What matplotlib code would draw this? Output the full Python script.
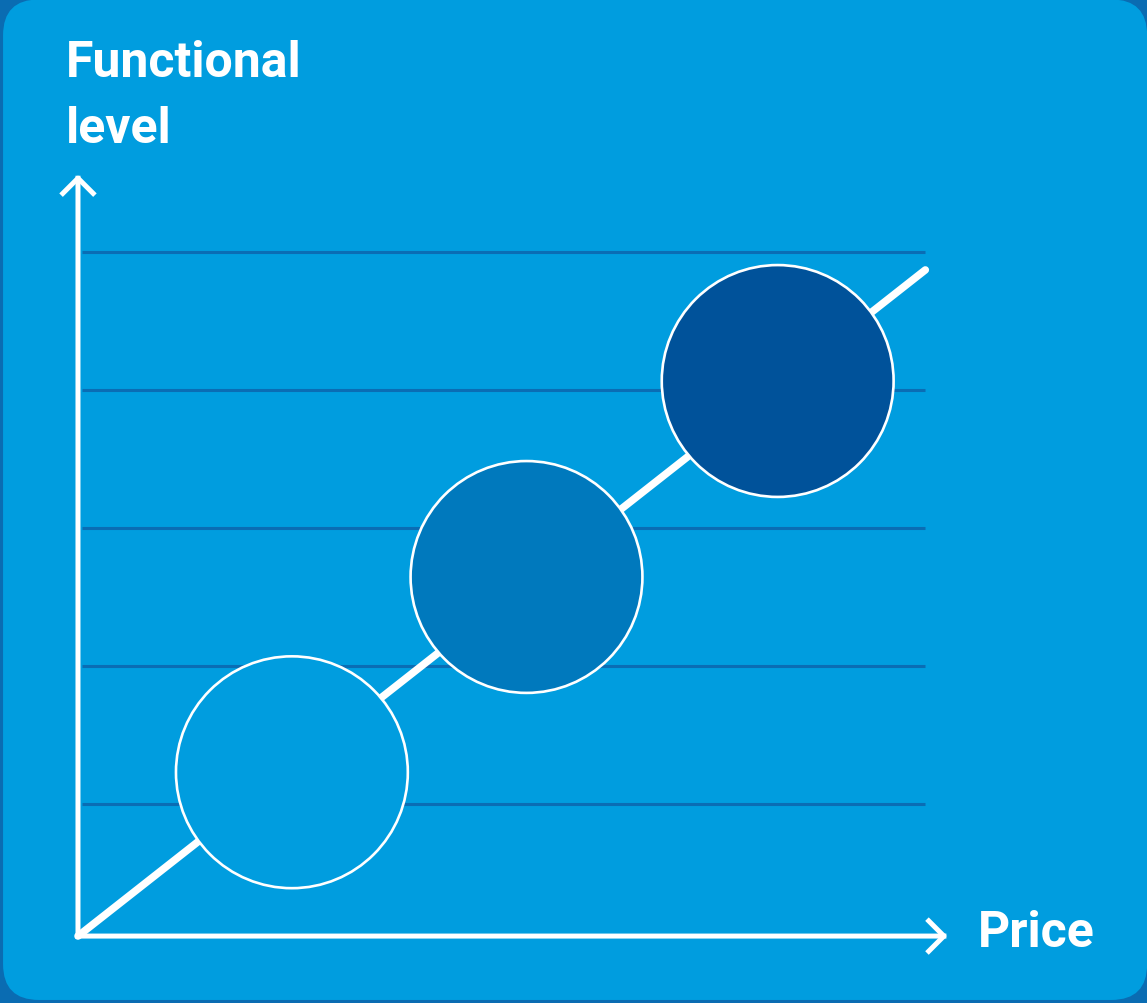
import matplotlib
matplotlib.use("Agg")
import matplotlib.pyplot as plt
from matplotlib.patches import Circle, FancyBboxPatch

# data (price / functional level units, 1 unit ~ 138 px)
grid_levels = [1, 2, 3, 4, 5]
grid_x = (0.03, 6.14)
trend_x = [0.0, 6.14]
trend_y = [0.043, 4.87]
circle_x = [1.55, 3.25, 5.07]
circle_y = [1.23, 2.645, 4.065]
circle_r = [0.84, 0.84, 0.84]
circle_colors = ['#009ddf', '#0079bd', '#00529a']
axis_origin = (0.0, 0.043)
x_axis_end = 6.30
y_axis_end = 5.56
y_label = "Functional\nlevel"
x_label = "Price"

bg = '#009ddf'
frame = '#0a6cb2'
grid_color = '#0a6db4'

fig = plt.figure(figsize=(11.47, 10.04), dpi=100, facecolor=frame)
ax = fig.add_axes([0, 0, 1, 1])
ax.set_xlim(-0.565, 7.746)
ax.set_ylim(-0.442, 6.833)
ax.set_aspect('equal')
ax.axis('off')

# rounded panel
panel = FancyBboxPatch((-0.543 + 0.26, -0.42 + 0.26), 8.29 - 0.52, 7.25 - 0.52,
                       boxstyle="round,pad=0.26", fc=bg, ec='none', zorder=0)
ax.add_patch(panel)

ax.hlines(grid_levels, grid_x[0], grid_x[1], color=grid_color, lw=2.2, zorder=1)

ax.plot(trend_x, trend_y, color='white', lw=5.4, solid_capstyle='round', zorder=2)

for x, y, r, c in zip(circle_x, circle_y, circle_r, circle_colors):
    ax.add_patch(Circle((x, y), r, fc=c, ec='white', lw=1.9, zorder=3))

# axes with open arrow heads
arrow = dict(arrowstyle='->,head_length=0.42,head_width=0.42', lw=3.6,
             color='white', mutation_scale=26, shrinkA=0, shrinkB=0,
             capstyle='projecting')
ax.annotate('', xy=(x_axis_end, axis_origin[1]), xytext=axis_origin,
            arrowprops=arrow, zorder=4)
ax.annotate('', xy=(axis_origin[0], y_axis_end), xytext=axis_origin,
            arrowprops=arrow, zorder=4)

font = ['Liberation Sans Narrow', 'Roboto', 'DejaVu Sans']
ax.text(-0.09, 5.797, y_label, color='white', fontsize=36, fontweight='bold',
        family=font, va='baseline', ha='left', linespacing=1.52)
ax.text(6.52, -0.03, x_label, color='white', fontsize=36,
        fontweight='bold', family=font, va='baseline', ha='left')

fig.savefig('out.png', dpi=100, facecolor=frame)
